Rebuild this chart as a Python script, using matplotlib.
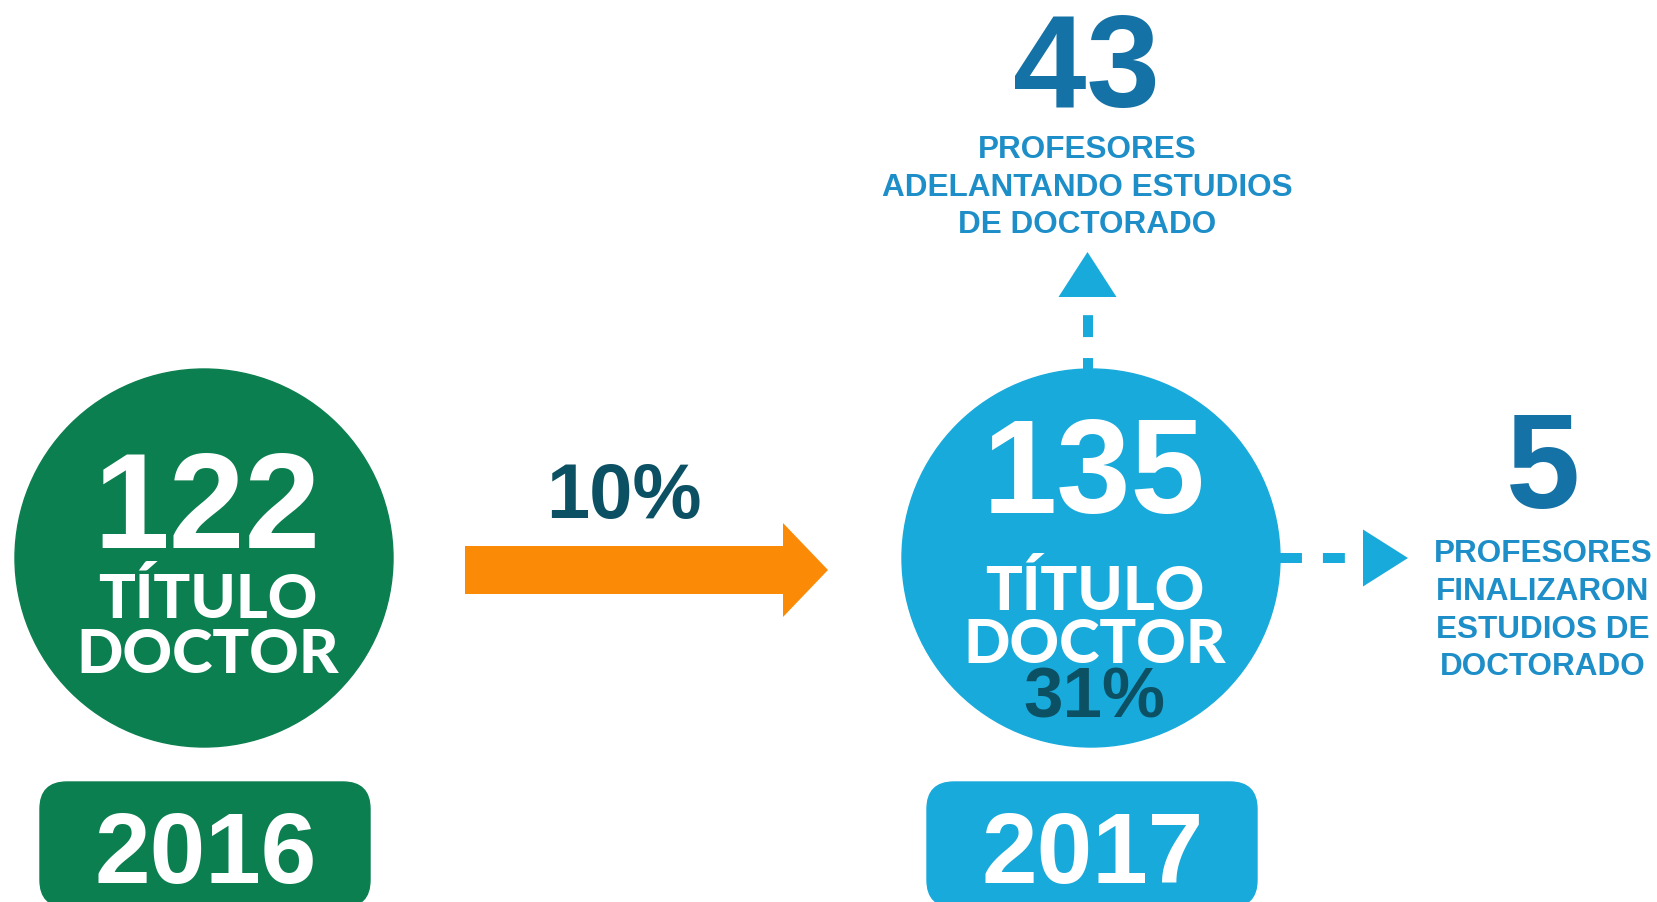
import matplotlib.pyplot as plt
from matplotlib.patches import Circle, FancyBboxPatch, FancyArrow, Polygon

# data
years = ["2016", "2017"]
doctors = [122, 135]
growth = "10%"
share_2017 = "31%"
in_progress = 43
finished = 5
circle_label = ["TÍTULO", "DOCTOR"]
in_progress_label = ["PROFESORES", "ADELANTANDO ESTUDIOS", "DE DOCTORADO"]
finished_label = ["PROFESORES", "FINALIZARON", "ESTUDIOS DE", "DOCTORADO"]

green = "#0b7f4f"
blue = "#19aadc"
deep_blue = "#1572a6"
mid_blue = "#1d8ec8"
dark_teal = "#0c5063"
orange = "#fb8b07"

plt.rcParams["lines.scale_dashes"] = False
num_font = ["Liberation Sans", "DejaVu Sans"]
heavy_font = ["Lato", "Liberation Sans", "DejaVu Sans"]

fig = plt.figure(figsize=(16.57, 9.02), dpi=100)
ax = fig.add_axes([0, 0, 1, 1])
ax.set_xlim(0, 1657)
ax.set_ylim(902, 0)
ax.axis("off")

cx = [204, 1091]
cy = 558
r = 189
colors = [green, blue]
number_size = [98, 96]

for i in range(2):
    ax.add_patch(Circle((cx[i], cy), r, color=colors[i], zorder=2))
    ax.text(cx[i] + 3, 548 if i == 0 else 513, str(doctors[i]), color="white",
            fontsize=number_size[i], fontweight="bold", family=num_font,
            ha="center", va="baseline", zorder=3)
    base = [618, 673] if i == 0 else [610, 663]
    for j, word in enumerate(circle_label):
        ax.text(cx[i] + 4, base[j], word, color="white", fontsize=44,
                fontweight="black", family=heavy_font,
                ha="center", va="baseline", zorder=3)
    # year badge
    ax.add_patch(FancyBboxPatch((cx[i] - 164, 782), 330, 125,
                                boxstyle="round,pad=0,rounding_size=27",
                                color=colors[i], zorder=2))
    ax.text(cx[i] + 2, 883, years[i], color="white", fontsize=72,
            fontweight="bold", family=num_font, ha="center", va="baseline",
            zorder=3)

ax.text(1094, 718, share_2017, color=dark_teal, fontsize=51, fontweight="bold",
        family=num_font, ha="center", va="baseline", zorder=3)

# growth arrow
ax.add_patch(FancyArrow(465, 570, 363, 0, width=48, head_width=94,
                        head_length=45, length_includes_head=True,
                        color=orange, lw=0, zorder=2))
ax.text(624, 518, growth, color=dark_teal, fontsize=56, fontweight="bold",
        family=num_font, ha="center", va="baseline")

# dashed arrow up
lx = 1087.5
ax.plot([lx, lx], [380, 297], color=blue, lw=7.2, solid_capstyle="butt",
        dash_capstyle="butt", dashes=(15.8, 15.1), zorder=1)
tw, th = 58, 45
ax.add_patch(Polygon([(lx - tw / 2, 297), (lx + tw / 2, 297), (lx, 297 - th)],
                     closed=True, color=blue, lw=0))
ax.text(1086, 107, str(in_progress), color=deep_blue, fontsize=95,
        fontweight="bold", family=num_font, ha="center", va="baseline")
for j, (line, y) in enumerate(zip(in_progress_label, [158, 196, 233])):
    ax.text(1087, y, line, color=mid_blue, fontsize=22.7, fontweight="bold",
            family=num_font, ha="center", va="baseline")

# dashed arrow right
ax.plot([1280, 1363], [558, 558], color=blue, lw=7.2,
        dash_capstyle="butt", dashes=(15.8, 15.1), zorder=1)
hw, hl = 57, 45
ax.add_patch(Polygon([(1363, 558 - hw / 2), (1363, 558 + hw / 2), (1363 + hl, 558)],
                     closed=True, color=blue, lw=0))
ax.text(1543, 508, str(finished), color=deep_blue, fontsize=96,
        fontweight="bold", family=num_font, ha="center", va="baseline")
for line, y in zip(finished_label, [562, 600, 638, 675]):
    ax.text(1543, y, line, color=mid_blue, fontsize=22.7, fontweight="bold",
            family=num_font, ha="center", va="baseline")

fig.savefig("out.png", dpi=100, facecolor="white")
